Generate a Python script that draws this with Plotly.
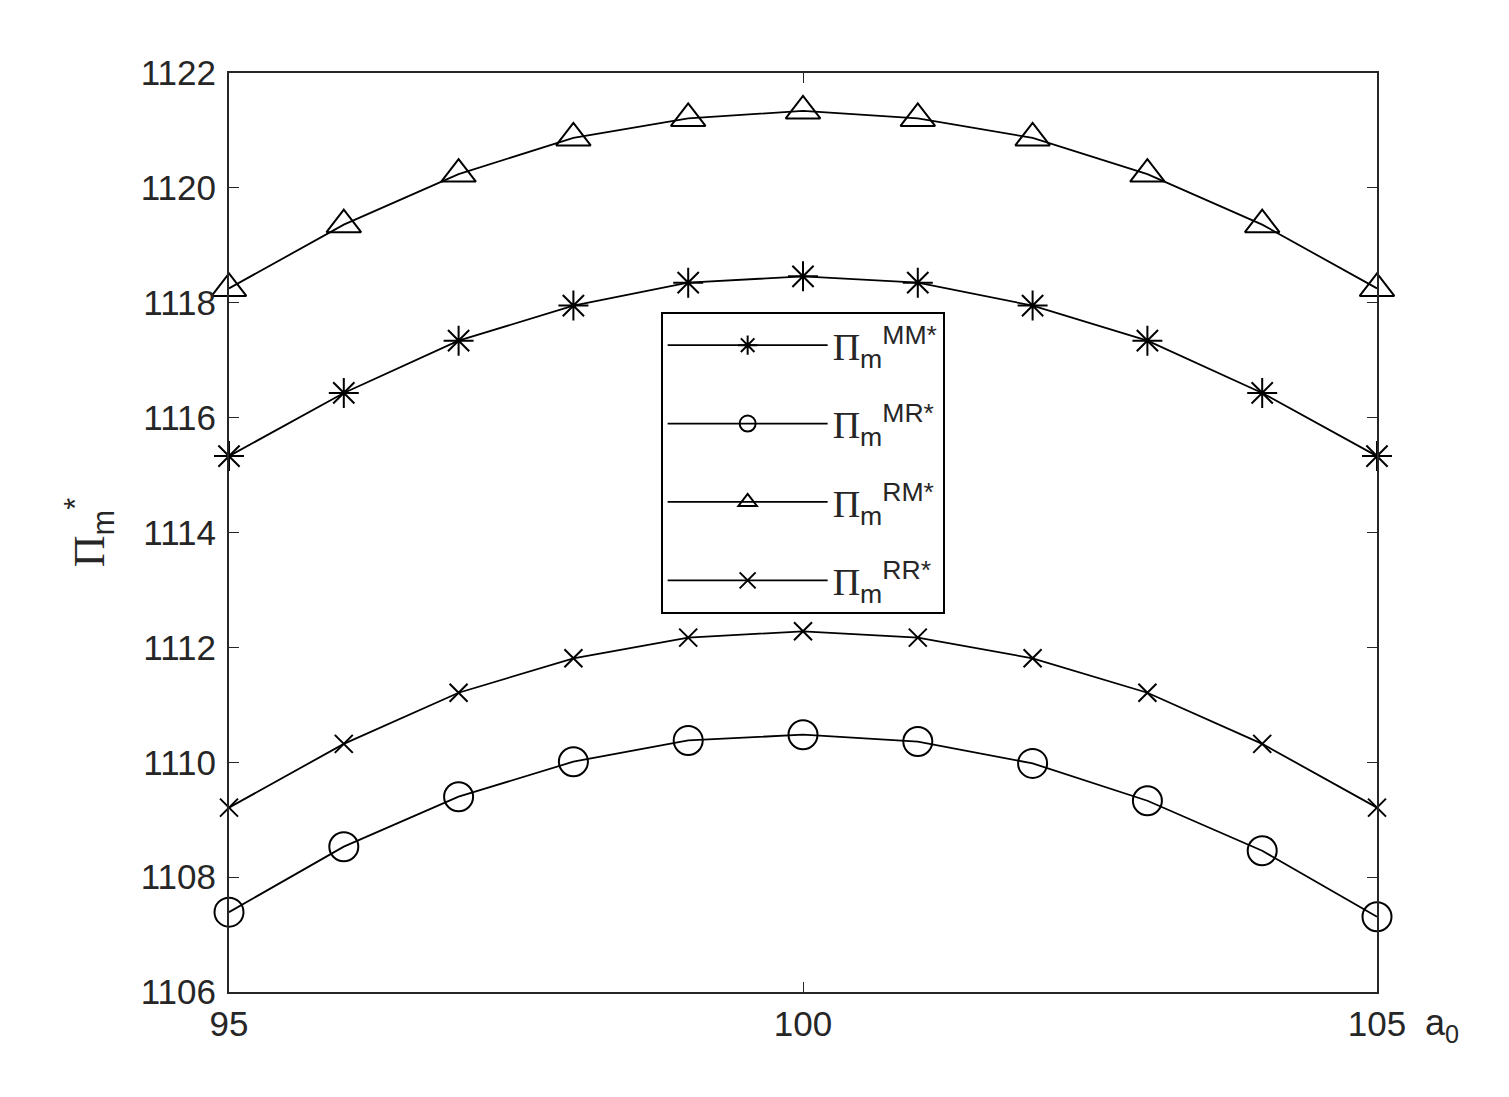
import plotly.graph_objects as go

a0 = [95, 96, 97, 98, 99, 100, 101, 102, 103, 104, 105]

pi_mm = [1115.33, 1116.43, 1117.34, 1117.95, 1118.35, 1118.46, 1118.35, 1117.95, 1117.34, 1116.43, 1115.33]
pi_mr = [1107.39, 1108.53, 1109.40, 1110.01, 1110.38, 1110.48, 1110.36, 1109.98, 1109.33, 1108.46, 1107.31]
pi_rm = [1118.25, 1119.36, 1120.24, 1120.87, 1121.21, 1121.34, 1121.21, 1120.87, 1120.24, 1119.36, 1118.25]
pi_rr = [1109.21, 1110.32, 1111.21, 1111.81, 1112.17, 1112.28, 1112.17, 1111.81, 1111.21, 1110.32, 1109.21]

PI = "<span style='font-family:Liberation Serif'>Π</span>"
names = [PI + "<sub>m</sub><sup>MM*</sup>", PI + "<sub>m</sub><sup>MR*</sup>",
         PI + "<sub>m</sub><sup>RM*</sup>", PI + "<sub>m</sub><sup>RR*</sup>"]

ink = "#262626"
font = "Liberation Sans, Arial, sans-serif"

fig = go.Figure()

series = [
    (pi_mm, "asterisk-open", 25, names[0]),
    (pi_mr, "circle-open", 29, names[1]),
    (pi_rm, "triangle-up-open", 30, names[2]),
    (pi_rr, "x-thin-open", 18, names[3]),
]
for i, (ys, sym, sz, nm) in enumerate(series):
    fig.add_trace(go.Scatter(
        x=a0, y=ys, mode="lines+markers", name=nm, legendgroup=str(i),
        line=dict(color="black", width=1.8),
        marker=dict(symbol=sym, size=sz, color="black",
                    line=dict(color="black", width=2)),
        cliponaxis=False,
    ))

fig.update_layout(
    width=1509, height=1097,
    margin=dict(l=221, r=140, t=65, b=113),
    plot_bgcolor="white", paper_bgcolor="white",
    font=dict(family=font, size=34, color=ink),
    showlegend=True,
    legend=dict(
        x=0.376, y=0.74, xanchor="left", yanchor="top",
        bordercolor="black", borderwidth=2, bgcolor="white",
        font=dict(family=font, size=38, color=ink),
        itemwidth=160, tracegroupgap=26, traceorder="grouped",
    ),
    xaxis=dict(
        range=[95, 105], tickvals=[95, 100, 105],
        ticks="inside", ticklen=10, tickcolor=ink,
        showline=True, linecolor=ink, linewidth=2, mirror="ticks",
        showgrid=False, zeroline=False,
        tickfont=dict(family=font, size=35, color=ink),
    ),
    yaxis=dict(
        range=[1106, 1122], dtick=2,
        ticks="inside", ticklen=10, tickcolor=ink,
        showline=True, linecolor=ink, linewidth=2, mirror="ticks",
        showgrid=False, zeroline=False, ticklabelstandoff=4,
        tickfont=dict(family=font, size=35, color=ink),
        title=dict(text=PI + "<sub>m</sub><sup>*</sup>", standoff=22,
                   font=dict(family=font, size=44, color=ink)),
    ),
)

fig.add_annotation(
    text="a<sub>0</sub>", xref="paper", yref="paper", x=1, y=0,
    xanchor="left", yanchor="top", xshift=46, yshift=-8, showarrow=False,
    font=dict(family=font, size=36, color=ink),
)

fig.write_html("out.html")
